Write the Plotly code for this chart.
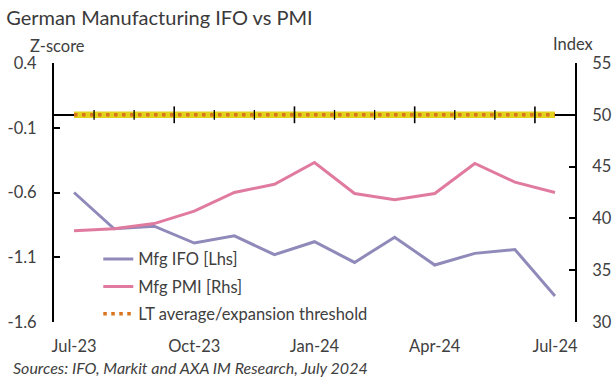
import plotly.graph_objects as go

months = ["Jul-23", "Aug-23", "Sep-23", "Oct-23", "Nov-23", "Dec-23", "Jan-24",
          "Feb-24", "Mar-24", "Apr-24", "May-24", "Jun-24", "Jul-24"]
ifo_z = [-0.60, -0.88, -0.86, -0.99, -0.935, -1.08, -0.98, -1.14, -0.945, -1.16, -1.07, -1.04, -1.40]
pmi = [38.8, 39.0, 39.5, 40.7, 42.5, 43.3, 45.4, 42.4, 41.8, 42.4, 45.3, 43.5, 42.5]
lt_avg_z = [0.0] * len(months)
tick_labels = ["Jul-23", "Oct-23", "Jan-24", "Apr-24", "Jul-24"]
left_ticks = [-1.6, -1.1, -0.6, -0.1, 0.4]
right_ticks = [30, 35, 40, 45, 50, 55]

x = list(range(len(months)))
label_pos = [months.index(m) for m in tick_labels]
minor_b = [i + 0.5 for i in range(len(months) - 1) if (i + 1) % 3 != 0]
major_b = [i + 0.5 for i in range(len(months) - 1) if (i + 1) % 3 == 0]

FONT = "Lato"
FS = 16.5
TXT = "#404040"
fig = go.Figure()

fig.add_trace(go.Scatter(x=x, y=ifo_z, mode="lines", name="Mfg IFO [Lhs]",
                         line=dict(color="#8F8AB9", width=3), legendgroup="a"))
fig.add_trace(go.Scatter(x=x, y=pmi, mode="lines", name="Mfg PMI [Rhs]", yaxis="y2",
                         line=dict(color="#E07B9F", width=3), legendgroup="b"))
# LT average: yellow band + orange dots
fig.add_trace(go.Scatter(x=x, y=lt_avg_z, mode="lines", line=dict(color="#E3D31C", width=6.5),
                         showlegend=False, hoverinfo="skip"))
fig.add_trace(go.Scatter(x=x, y=lt_avg_z, mode="lines", name="LT average/expansion threshold",
                         line=dict(color="#D9731E", width=3.5, dash="3.5px,4.5px"), legendgroup="c"))
# axis tick marks on the zero axis
fig.add_trace(go.Scatter(x=minor_b, y=[0] * len(minor_b), mode="markers", showlegend=False, hoverinfo="skip",
                         marker=dict(symbol="line-ns", size=7, line=dict(color="black", width=1.3))))
fig.add_trace(go.Scatter(x=major_b, y=[0] * len(major_b), mode="markers", showlegend=False, hoverinfo="skip",
                         marker=dict(symbol="line-ns", size=12, line=dict(color="black", width=1.6))))

fig.update_layout(
    width=615, height=379,
    margin=dict(l=54, r=40, t=63, b=57, autoexpand=False),
    paper_bgcolor="white", plot_bgcolor="white",
    font=dict(family=FONT, size=FS, color=TXT),
    title=dict(text="German Manufacturing IFO vs PMI", x=0.01, xanchor="left", y=0.952, yanchor="middle",
               font=dict(family=FONT, size=20, color="#3a3a3a")),
    xaxis=dict(range=[-0.5, 12.5], tickvals=label_pos, ticktext=tick_labels, showgrid=False,
               showline=False, zeroline=False, ticks="outside", ticklen=9, tickcolor="rgba(0,0,0,0)",
               automargin=False, tickfont=dict(size=FS, color=TXT)),
    yaxis=dict(range=[-1.6, 0.4], tickvals=left_ticks, ticktext=[f"{v:.1f}" for v in left_ticks],
               showgrid=False, showline=True, linecolor="black", linewidth=2, ticks="inside",
               ticklen=6, tickwidth=2, tickcolor="black", zeroline=True, zerolinecolor="black",
               zerolinewidth=1.5, ticklabelstandoff=12, automargin=False,
               tickfont=dict(size=FS, color=TXT)),
    yaxis2=dict(range=[30, 55], tickvals=right_ticks, overlaying="y", side="right", showgrid=False,
                showline=True, linecolor="black", linewidth=2, ticks="inside", ticklen=6, tickwidth=2,
                tickcolor="black", zeroline=False, ticklabelstandoff=12, automargin=False,
                tickfont=dict(size=FS, color=TXT)),
    legend=dict(x=0.085, y=0.31, xanchor="left", yanchor="top", bgcolor="rgba(0,0,0,0)",
                traceorder="grouped", tracegroupgap=3, font=dict(size=FS, color=TXT)),
    annotations=[
        dict(text="Z-score", xref="paper", yref="paper", x=0.006, y=1.0, xanchor="center", yanchor="bottom",
             yshift=5, showarrow=False, font=dict(size=FS, color=TXT)),
        dict(text="Index", xref="paper", yref="paper", x=1.0, y=1.0, xanchor="left", yanchor="bottom",
             xshift=-24, yshift=7, showarrow=False, font=dict(size=FS, color=TXT)),
        dict(text="<i>Sources: IFO, Markit and AXA IM Research, July 2024</i>", xref="paper", yref="paper",
             x=-0.083, y=0, xanchor="left", yanchor="top", yshift=-34, showarrow=False,
             font=dict(size=16, color=TXT)),
    ],
)

fig.write_html("out.html", config={"displayModeBar": False},
               post_script="document.body.style.margin='0';document.body.style.overflow='hidden';")
